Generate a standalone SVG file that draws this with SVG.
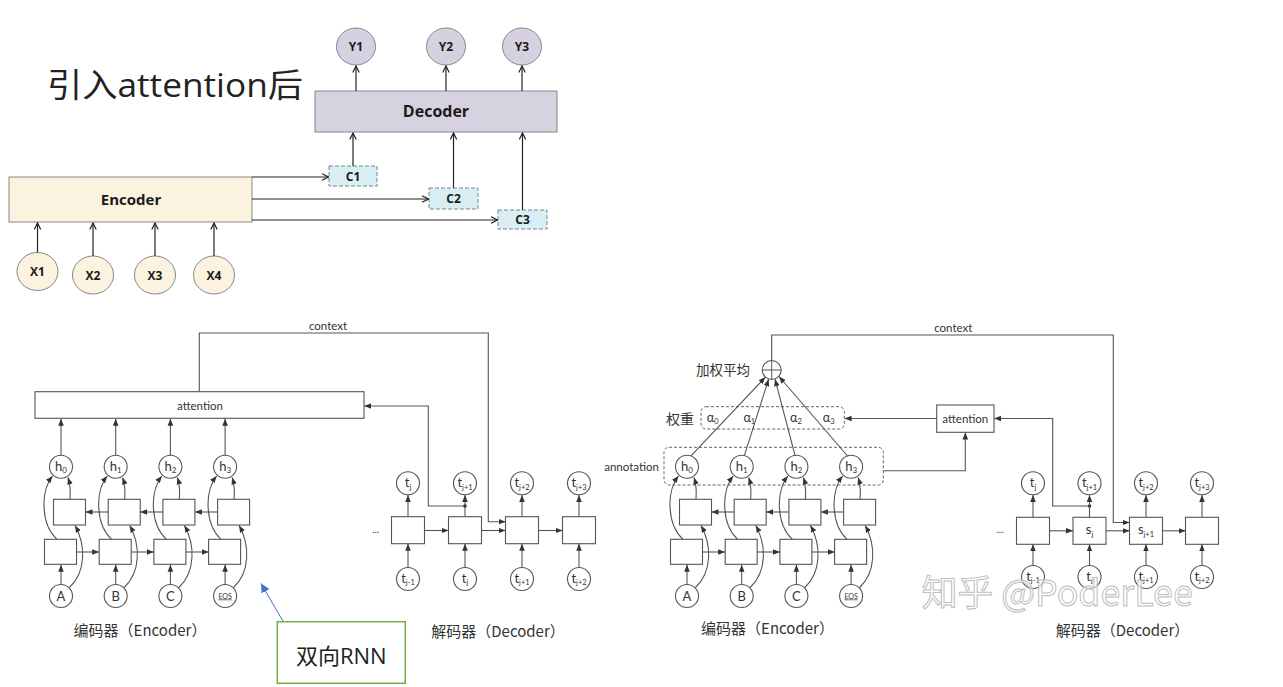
<svg xmlns="http://www.w3.org/2000/svg" width="1283" height="687" viewBox="0 0 1283 687">
<defs>
<style>
.t{font-family:"Open Sans","Noto Sans CJK SC",sans-serif;fill:#222;}
.tb{font-family:"Open Sans","Noto Sans CJK SC",sans-serif;font-weight:700;fill:#1a1a1a;text-anchor:middle;}
.ln{fill:none;stroke:#222;stroke-width:1.2;}
.l2{fill:none;stroke:#555;stroke-width:1.1;}
.nc{fill:#fff;stroke:#555;stroke-width:1.1;}
.nb{fill:#fff;stroke:#555;stroke-width:1.1;}
.lb{font-family:Lato,"Open Sans",sans-serif;fill:#333;text-anchor:middle;}
.le{font-family:Lato,"Open Sans",sans-serif;fill:#333;text-anchor:end;}
.cj{font-family:"Noto Sans CJK SC",sans-serif;fill:#333;}
.cm{font-family:"Noto Sans CJK SC",sans-serif;fill:#333;text-anchor:middle;}
.dash{fill:none;stroke:#666;stroke-width:1;stroke-dasharray:3 2;}
.yc{fill:#d6d1e0;stroke:#888;stroke-width:1;}
.xc{fill:#fcf2e0;stroke:#888;stroke-width:1;}
.cb{fill:#d8eef3;stroke:#6f8a90;stroke-width:1;stroke-dasharray:4 2;}
</style>
<marker id="oa" viewBox="0 0 10 10" refX="9" refY="5" markerWidth="8" markerHeight="8" markerUnits="userSpaceOnUse" orient="auto"><path d="M1,1 L9,5 L1,9" fill="none" stroke="#222" stroke-width="1.5"/></marker>
<marker id="fa" viewBox="0 0 10 10" refX="10" refY="5" markerWidth="7" markerHeight="7" markerUnits="userSpaceOnUse" orient="auto"><path d="M0,1 L10,5 L0,9 z" fill="#333"/></marker>
<marker id="ba" viewBox="0 0 10 10" refX="10" refY="5" markerWidth="9" markerHeight="9" markerUnits="userSpaceOnUse" orient="auto"><path d="M0,0 L10,5 L0,10 z" fill="#4472c4"/></marker>
</defs>
<rect width="1283" height="687" fill="#fff"/>

<!-- ===== TOP DIAGRAM ===== -->
<g id="title"><text class="t" x="47" y="97" font-size="33" textLength="256" lengthAdjust="spacingAndGlyphs">引入attention后</text></g>

<g id="top-nodes">
<g id="Y1"><ellipse class="yc" cx="356" cy="46.5" rx="19.5" ry="18.5"/><text class="tb" x="356" y="51" font-size="12">Y1</text></g>
<g id="Y2"><ellipse class="yc" cx="446" cy="46.5" rx="19.5" ry="18.5"/><text class="tb" x="446" y="51" font-size="12">Y2</text></g>
<g id="Y3"><ellipse class="yc" cx="522" cy="46.5" rx="19.5" ry="18.5"/><text class="tb" x="522" y="51" font-size="12">Y3</text></g>
<g id="Decoder"><rect x="315" y="91" width="242" height="41" fill="#d6d2e0" stroke="#888" stroke-width="1"/><text class="tb" x="436" y="116.5" font-size="16">Decoder</text></g>
<g id="C1"><rect class="cb" x="329" y="166" width="48" height="20"/><text class="tb" x="353" y="180.5" font-size="12">C1</text></g>
<g id="C2"><rect class="cb" x="429" y="188" width="49" height="21"/><text class="tb" x="453.5" y="203" font-size="12">C2</text></g>
<g id="C3"><rect class="cb" x="498" y="210" width="49" height="19"/><text class="tb" x="522.5" y="224" font-size="12">C3</text></g>
<g id="Encoder"><rect x="9" y="177" width="243" height="45" fill="#fcf2e0" stroke="#888" stroke-width="1"/><text class="tb" x="131" y="204.5" font-size="15">Encoder</text></g>
<g id="X1"><ellipse class="xc" cx="37.5" cy="271.5" rx="20.5" ry="19"/><text class="tb" x="37.5" y="276" font-size="12">X1</text></g>
<g id="X2"><ellipse class="xc" cx="93" cy="275" rx="20.5" ry="19"/><text class="tb" x="93" y="279.5" font-size="12">X2</text></g>
<g id="X3"><ellipse class="xc" cx="155" cy="275" rx="20.5" ry="19"/><text class="tb" x="155" y="279.5" font-size="12">X3</text></g>
<g id="X4"><ellipse class="xc" cx="214" cy="275" rx="20.5" ry="19"/><text class="tb" x="214" y="279.5" font-size="12">X4</text></g>
</g>

<g id="top-connectors" class="ln">
<path d="M356,91 V66" marker-end="url(#oa)"/>
<path d="M446,91 V66" marker-end="url(#oa)"/>
<path d="M522,91 V66" marker-end="url(#oa)"/>
<path d="M353,166 V133" marker-end="url(#oa)"/>
<path d="M453.5,188 V133" marker-end="url(#oa)"/>
<path d="M522.5,210 V133" marker-end="url(#oa)"/>
<path d="M252,177 H328.5" marker-end="url(#oa)"/>
<path d="M252,199 H428.5" marker-end="url(#oa)"/>
<path d="M252,220 H497.5" marker-end="url(#oa)"/>
<path d="M37.5,252.5 V223" marker-end="url(#oa)"/>
<path d="M93,256 V223" marker-end="url(#oa)"/>
<path d="M155,256 V223" marker-end="url(#oa)"/>
<path d="M214,256 V223" marker-end="url(#oa)"/>
</g>

<!-- ===== BOTTOM LEFT ===== -->
<g id="L-nodes">
<g id="L-attention"><rect class="nb" x="35" y="391.7" width="329" height="26.6"/><text class="lb" x="200" y="410" font-size="11.5">attention</text></g>
<g id="L-context-label"><text class="lb" x="328" y="330" font-size="11.5">context</text></g>
<g id="L-h0" transform="translate(61,0)"><circle class="nc" cx="0" cy="466.7" r="11.5"/><text class="lb" x="0" y="470.5" font-size="13">h<tspan font-size="8" dy="2.5">0</tspan></text></g>
<g id="L-h1" transform="translate(115.7,0)"><circle class="nc" cx="0" cy="466.7" r="11.5"/><text class="lb" x="0" y="470.5" font-size="13">h<tspan font-size="8" dy="2.5">1</tspan></text></g>
<g id="L-h2" transform="translate(170.4,0)"><circle class="nc" cx="0" cy="466.7" r="11.5"/><text class="lb" x="0" y="470.5" font-size="13">h<tspan font-size="8" dy="2.5">2</tspan></text></g>
<g id="L-h3" transform="translate(225.1,0)"><circle class="nc" cx="0" cy="466.7" r="11.5"/><text class="lb" x="0" y="470.5" font-size="13">h<tspan font-size="8" dy="2.5">3</tspan></text></g>
<g id="L-bw0" transform="translate(61,0)"><rect class="nb" x="-7.5" y="499.3" width="32" height="25.7"/></g>
<g id="L-bw1" transform="translate(115.7,0)"><rect class="nb" x="-7.5" y="499.3" width="32" height="25.7"/></g>
<g id="L-bw2" transform="translate(170.4,0)"><rect class="nb" x="-7.5" y="499.3" width="32" height="25.7"/></g>
<g id="L-bw3" transform="translate(225.1,0)"><rect class="nb" x="-7.5" y="499.3" width="32" height="25.7"/></g>
<g id="L-fw0" transform="translate(61,0)"><rect class="nb" x="-16.5" y="539.3" width="32" height="25"/></g>
<g id="L-fw1" transform="translate(115.7,0)"><rect class="nb" x="-16.5" y="539.3" width="32" height="25"/></g>
<g id="L-fw2" transform="translate(170.4,0)"><rect class="nb" x="-16.5" y="539.3" width="32" height="25"/></g>
<g id="L-fw3" transform="translate(225.1,0)"><rect class="nb" x="-16.5" y="539.3" width="32" height="25"/></g>
<g id="L-inA" transform="translate(61,0)"><circle class="nc" cx="0" cy="596" r="11.5"/><text class="lb" x="0" y="600.5" font-size="13">A</text></g>
<g id="L-inB" transform="translate(115.7,0)"><circle class="nc" cx="0" cy="596" r="11.5"/><text class="lb" x="0" y="600.5" font-size="13">B</text></g>
<g id="L-inC" transform="translate(170.4,0)"><circle class="nc" cx="0" cy="596" r="11.5"/><text class="lb" x="0" y="600.5" font-size="13">C</text></g>
<g id="L-inEOS" transform="translate(225.1,0)"><circle class="nc" cx="0" cy="596" r="11.5"/><text class="lb" x="0" y="598.5" font-size="7" text-decoration="underline">EOS</text></g>
<g id="L-enc-label"><text class="cm" x="140" y="635.5" font-size="15">编码器（Encoder）</text></g>

<g id="L-d0"><rect class="nb" x="391.5" y="516.7" width="33" height="27"/></g>
<g id="L-d1"><rect class="nb" x="448.5" y="516.7" width="33" height="27"/></g>
<g id="L-d2"><rect class="nb" x="505.5" y="516.7" width="33" height="27"/></g>
<g id="L-d3"><rect class="nb" x="562.5" y="516.7" width="33" height="27"/></g>
<g id="L-o0"><circle class="nc" cx="408" cy="483.3" r="11.5"/><text class="lb" x="408" y="487" font-size="13">t<tspan font-size="7.5" dy="2.5">j</tspan></text></g>
<g id="L-o1"><circle class="nc" cx="465" cy="483.3" r="11.5"/><text class="lb" x="465" y="487" font-size="13">t<tspan font-size="7.5" dy="2.5">j+1</tspan></text></g>
<g id="L-o2"><circle class="nc" cx="522" cy="483.3" r="11.5"/><text class="lb" x="522" y="487" font-size="13">t<tspan font-size="7.5" dy="2.5">j+2</tspan></text></g>
<g id="L-o3"><circle class="nc" cx="579" cy="483.3" r="11.5"/><text class="lb" x="579" y="487" font-size="13">t<tspan font-size="7.5" dy="2.5">j+3</tspan></text></g>
<g id="L-i0"><circle class="nc" cx="408" cy="579" r="11.5"/><text class="lb" x="408" y="582.5" font-size="13">t<tspan font-size="7.5" dy="2.5">j-1</tspan></text></g>
<g id="L-i1"><circle class="nc" cx="465" cy="579" r="11.5"/><text class="lb" x="465" y="582.5" font-size="13">t<tspan font-size="7.5" dy="2.5">j</tspan></text></g>
<g id="L-i2"><circle class="nc" cx="522" cy="579" r="11.5"/><text class="lb" x="522" y="582.5" font-size="13">t<tspan font-size="7.5" dy="2.5">j+1</tspan></text></g>
<g id="L-i3"><circle class="nc" cx="579" cy="579" r="11.5"/><text class="lb" x="579" y="582.5" font-size="13">t<tspan font-size="7.5" dy="2.5">j+2</tspan></text></g>
<g id="L-dots"><text class="lb" x="375.7" y="533" font-size="10">...</text></g>
<g id="L-dec-label"><text class="cm" x="498" y="637" font-size="15">解码器（Decoder）</text></g>
</g>

<g id="L-connectors" class="l2">
<g transform="translate(61,0)"><path d="M0,455 V418.8" marker-end="url(#fa)"/><path d="M-4,539.3 C-20,525 -21,492 -8.5,476" marker-end="url(#fa)"/><path d="M9,499.3 Q10,487 7,477.5" marker-end="url(#fa)"/><path d="M8.5,587.5 C25,572 25,545 14,525.5" marker-end="url(#fa)"/><path d="M0,584.5 V564.8" marker-end="url(#fa)"/></g>
<g transform="translate(115.7,0)"><path d="M0,455 V418.8" marker-end="url(#fa)"/><path d="M-4,539.3 C-20,525 -21,492 -8.5,476" marker-end="url(#fa)"/><path d="M9,499.3 Q10,487 7,477.5" marker-end="url(#fa)"/><path d="M8.5,587.5 C25,572 25,545 14,525.5" marker-end="url(#fa)"/><path d="M0,584.5 V564.8" marker-end="url(#fa)"/></g>
<g transform="translate(170.4,0)"><path d="M0,455 V418.8" marker-end="url(#fa)"/><path d="M-4,539.3 C-20,525 -21,492 -8.5,476" marker-end="url(#fa)"/><path d="M9,499.3 Q10,487 7,477.5" marker-end="url(#fa)"/><path d="M8.5,587.5 C25,572 25,545 14,525.5" marker-end="url(#fa)"/><path d="M0,584.5 V564.8" marker-end="url(#fa)"/></g>
<g transform="translate(225.1,0)"><path d="M0,455 V418.8" marker-end="url(#fa)"/><path d="M-4,539.3 C-20,525 -21,492 -8.5,476" marker-end="url(#fa)"/><path d="M9,499.3 Q10,487 7,477.5" marker-end="url(#fa)"/><path d="M8.5,587.5 C25,572 25,545 14,525.5" marker-end="url(#fa)"/><path d="M0,584.5 V564.8" marker-end="url(#fa)"/></g>
<path d="M108.2,512 H85.5" marker-end="url(#fa)"/>
<path d="M162.9,512 H140.2" marker-end="url(#fa)"/>
<path d="M217.6,512 H194.9" marker-end="url(#fa)"/>
<path d="M76.5,552 H99.2" marker-end="url(#fa)"/>
<path d="M131.2,552 H153.9" marker-end="url(#fa)"/>
<path d="M185.9,552 H208.6" marker-end="url(#fa)"/>
<path d="M408,516.7 V495" marker-end="url(#fa)"/>
<path d="M465,516.7 V495" marker-end="url(#fa)"/>
<path d="M522,516.7 V495" marker-end="url(#fa)"/>
<path d="M579,516.7 V495" marker-end="url(#fa)"/>
<path d="M408,567.5 V543.7" marker-end="url(#fa)"/>
<path d="M465,567.5 V543.7" marker-end="url(#fa)"/>
<path d="M522,567.5 V543.7" marker-end="url(#fa)"/>
<path d="M579,567.5 V543.7" marker-end="url(#fa)"/>
<path d="M424.5,530.5 H448.5" marker-end="url(#fa)"/>
<path d="M481.5,530.5 H505.5" marker-end="url(#fa)"/>
<path d="M538.5,530.5 H562.5" marker-end="url(#fa)"/>
<path d="M199.3,391.7 V333 H488.3 V521.7 H505.5" marker-end="url(#fa)"/>
<path d="M465,506 H428.3 V406 H364.3" marker-end="url(#fa)"/>
<circle cx="465" cy="506" r="1.8" fill="#333" stroke="none"/>
</g>

<!-- ===== BOTTOM RIGHT ===== -->
<g id="R-nodes">
<g id="R-sum"><circle class="nc" cx="771.7" cy="370" r="9.5"/><path d="M762.2,370 H781.2 M771.7,360.5 V379.5" stroke="#555" stroke-width="1"/></g>
<g id="R-sum-label"><text class="cj" x="696" y="374.5" font-size="13.5">加权平均</text></g>
<g id="R-context-label"><text class="lb" x="953.3" y="332" font-size="11.5">context</text></g>
<g id="R-weights"><rect class="dash" x="701" y="406.7" width="143.3" height="22.3" rx="5"/>
<text class="lb" x="712.7" y="421.5" font-size="12.5">α<tspan font-size="7.5" dy="2.5">0</tspan></text>
<text class="lb" x="749.3" y="421.5" font-size="12.5">α<tspan font-size="7.5" dy="2.5">1</tspan></text>
<text class="lb" x="796" y="421.5" font-size="12.5">α<tspan font-size="7.5" dy="2.5">2</tspan></text>
<text class="lb" x="828.7" y="421.5" font-size="12.5">α<tspan font-size="7.5" dy="2.5">3</tspan></text></g>
<g id="R-weights-label"><text class="cj" x="666" y="423.5" font-size="14">权重</text></g>
<g id="R-annotation"><rect class="dash" x="664" y="447.3" width="219.3" height="37.7" rx="5"/></g>
<g id="R-annotation-label"><text class="le" x="659" y="471" font-size="11.5">annotation</text></g>
<g id="R-attention"><rect class="nb" x="936.7" y="405" width="57.3" height="27.3"/><text class="lb" x="965.3" y="422.5" font-size="11.5">attention</text></g>
<g id="R-h0" transform="translate(687,0)"><circle class="nc" cx="0" cy="466.7" r="11.5"/><text class="lb" x="0" y="470.5" font-size="13">h<tspan font-size="8" dy="2.5">0</tspan></text></g>
<g id="R-h1" transform="translate(741.7,0)"><circle class="nc" cx="0" cy="466.7" r="11.5"/><text class="lb" x="0" y="470.5" font-size="13">h<tspan font-size="8" dy="2.5">1</tspan></text></g>
<g id="R-h2" transform="translate(796.4,0)"><circle class="nc" cx="0" cy="466.7" r="11.5"/><text class="lb" x="0" y="470.5" font-size="13">h<tspan font-size="8" dy="2.5">2</tspan></text></g>
<g id="R-h3" transform="translate(851.1,0)"><circle class="nc" cx="0" cy="466.7" r="11.5"/><text class="lb" x="0" y="470.5" font-size="13">h<tspan font-size="8" dy="2.5">3</tspan></text></g>
<g id="R-bw0" transform="translate(687,0)"><rect class="nb" x="-7.5" y="499.3" width="32" height="25.7"/></g>
<g id="R-bw1" transform="translate(741.7,0)"><rect class="nb" x="-7.5" y="499.3" width="32" height="25.7"/></g>
<g id="R-bw2" transform="translate(796.4,0)"><rect class="nb" x="-7.5" y="499.3" width="32" height="25.7"/></g>
<g id="R-bw3" transform="translate(851.1,0)"><rect class="nb" x="-7.5" y="499.3" width="32" height="25.7"/></g>
<g id="R-fw0" transform="translate(687,0)"><rect class="nb" x="-16.5" y="539.3" width="32" height="25"/></g>
<g id="R-fw1" transform="translate(741.7,0)"><rect class="nb" x="-16.5" y="539.3" width="32" height="25"/></g>
<g id="R-fw2" transform="translate(796.4,0)"><rect class="nb" x="-16.5" y="539.3" width="32" height="25"/></g>
<g id="R-fw3" transform="translate(851.1,0)"><rect class="nb" x="-16.5" y="539.3" width="32" height="25"/></g>
<g id="R-inA" transform="translate(687,0)"><circle class="nc" cx="0" cy="596" r="11.5"/><text class="lb" x="0" y="600.5" font-size="13">A</text></g>
<g id="R-inB" transform="translate(741.7,0)"><circle class="nc" cx="0" cy="596" r="11.5"/><text class="lb" x="0" y="600.5" font-size="13">B</text></g>
<g id="R-inC" transform="translate(796.4,0)"><circle class="nc" cx="0" cy="596" r="11.5"/><text class="lb" x="0" y="600.5" font-size="13">C</text></g>
<g id="R-inEOS" transform="translate(851.1,0)"><circle class="nc" cx="0" cy="596" r="11.5"/><text class="lb" x="0" y="598.5" font-size="7" text-decoration="underline">EOS</text></g>
<g id="R-enc-label"><text class="cm" x="767.5" y="633.5" font-size="15">编码器（Encoder）</text></g>

<g id="R-d0"><rect class="nb" x="1016.5" y="517.3" width="33" height="27"/></g>
<g id="R-d1"><rect class="nb" x="1073" y="517.3" width="33" height="27"/><text class="lb" x="1089.5" y="534" font-size="13">s<tspan font-size="7.5" dy="2.5">j</tspan></text></g>
<g id="R-d2"><rect class="nb" x="1129.5" y="517.3" width="33" height="27"/><text class="lb" x="1146" y="534" font-size="13">s<tspan font-size="7.5" dy="2.5">j+1</tspan></text></g>
<g id="R-d3"><rect class="nb" x="1185.5" y="517.3" width="33" height="27"/></g>
<g id="R-o0"><circle class="nc" cx="1033" cy="483.3" r="11.5"/><text class="lb" x="1033" y="487" font-size="13">t<tspan font-size="7.5" dy="2.5">j</tspan></text></g>
<g id="R-o1"><circle class="nc" cx="1089.5" cy="483.3" r="11.5"/><text class="lb" x="1089.5" y="487" font-size="13">t<tspan font-size="7.5" dy="2.5">j+1</tspan></text></g>
<g id="R-o2"><circle class="nc" cx="1146" cy="483.3" r="11.5"/><text class="lb" x="1146" y="487" font-size="13">t<tspan font-size="7.5" dy="2.5">j+2</tspan></text></g>
<g id="R-o3"><circle class="nc" cx="1202" cy="483.3" r="11.5"/><text class="lb" x="1202" y="487" font-size="13">t<tspan font-size="7.5" dy="2.5">j+3</tspan></text></g>
<g id="R-i0"><circle class="nc" cx="1033" cy="577" r="11.5"/><text class="lb" x="1033" y="580.5" font-size="13">t<tspan font-size="7.5" dy="2.5">j-1</tspan></text></g>
<g id="R-i1"><circle class="nc" cx="1089.5" cy="577" r="11.5"/><text class="lb" x="1089.5" y="580.5" font-size="13">t<tspan font-size="7.5" dy="2.5">j</tspan></text></g>
<g id="R-i2"><circle class="nc" cx="1146" cy="577" r="11.5"/><text class="lb" x="1146" y="580.5" font-size="13">t<tspan font-size="7.5" dy="2.5">j+1</tspan></text></g>
<g id="R-i3"><circle class="nc" cx="1202" cy="577" r="11.5"/><text class="lb" x="1202" y="580.5" font-size="13">t<tspan font-size="7.5" dy="2.5">j+2</tspan></text></g>
<g id="R-dots"><text class="lb" x="1000" y="533" font-size="10">...</text></g>
<g id="R-dec-label"><text class="cm" x="1122.5" y="635.5" font-size="15">解码器（Decoder）</text></g>
</g>

<g id="R-connectors" class="l2">
<g transform="translate(687,0)"><path d="M-4,539.3 C-20,525 -21,492 -8.5,476" marker-end="url(#fa)"/><path d="M9,499.3 Q10,487 7,477.5" marker-end="url(#fa)"/><path d="M8.5,587.5 C25,572 25,545 14,525.5" marker-end="url(#fa)"/><path d="M0,584.5 V564.8" marker-end="url(#fa)"/></g>
<g transform="translate(741.7,0)"><path d="M-4,539.3 C-20,525 -21,492 -8.5,476" marker-end="url(#fa)"/><path d="M9,499.3 Q10,487 7,477.5" marker-end="url(#fa)"/><path d="M8.5,587.5 C25,572 25,545 14,525.5" marker-end="url(#fa)"/><path d="M0,584.5 V564.8" marker-end="url(#fa)"/></g>
<g transform="translate(796.4,0)"><path d="M-4,539.3 C-20,525 -21,492 -8.5,476" marker-end="url(#fa)"/><path d="M9,499.3 Q10,487 7,477.5" marker-end="url(#fa)"/><path d="M8.5,587.5 C25,572 25,545 14,525.5" marker-end="url(#fa)"/><path d="M0,584.5 V564.8" marker-end="url(#fa)"/></g>
<g transform="translate(851.1,0)"><path d="M-4,539.3 C-20,525 -21,492 -8.5,476" marker-end="url(#fa)"/><path d="M9,499.3 Q10,487 7,477.5" marker-end="url(#fa)"/><path d="M8.5,587.5 C25,572 25,545 14,525.5" marker-end="url(#fa)"/><path d="M0,584.5 V564.8" marker-end="url(#fa)"/></g>
<path d="M734.2,512 H711.5" marker-end="url(#fa)"/>
<path d="M788.9,512 H766.2" marker-end="url(#fa)"/>
<path d="M843.6,512 H820.9" marker-end="url(#fa)"/>
<path d="M702.5,552 H725.2" marker-end="url(#fa)"/>
<path d="M757.2,552 H779.9" marker-end="url(#fa)"/>
<path d="M811.9,552 H834.6" marker-end="url(#fa)"/>
<path d="M691,455.9 L765.3,377.2" marker-end="url(#fa)"/>
<path d="M744.5,455.2 L768.6,379.2" marker-end="url(#fa)"/>
<path d="M795,455.3 L775,379.2" marker-end="url(#fa)"/>
<path d="M848,456.5 L779,376.5" marker-end="url(#fa)"/>
<path d="M883.3,470.7 H965.3 V432.6" marker-end="url(#fa)"/>
<path d="M936.7,418.5 H844.6" marker-end="url(#fa)"/>
<path d="M771.7,360.5 V335 H1113.3 V522.5 H1129.5" marker-end="url(#fa)"/>
<path d="M1089.5,506 H1052.7 V418.5 H994.3" marker-end="url(#fa)"/>
<circle cx="1089.5" cy="506" r="1.8" fill="#333" stroke="none"/>
<path d="M1033,517.3 V495" marker-end="url(#fa)"/>
<path d="M1089.5,517.3 V495" marker-end="url(#fa)"/>
<path d="M1146,517.3 V495" marker-end="url(#fa)"/>
<path d="M1202,517.3 V495" marker-end="url(#fa)"/>
<path d="M1033,565.5 V544.3" marker-end="url(#fa)"/>
<path d="M1089.5,565.5 V544.3" marker-end="url(#fa)"/>
<path d="M1146,565.5 V544.3" marker-end="url(#fa)"/>
<path d="M1202,565.5 V544.3" marker-end="url(#fa)"/>
<path d="M1049.5,530.8 H1073" marker-end="url(#fa)"/>
<path d="M1106,530.8 H1129.5" marker-end="url(#fa)"/>
<path d="M1162.5,530.8 H1185.5" marker-end="url(#fa)"/>
</g>

<g id="callout-connector"><path d="M283.3,621.7 L261,583.5" fill="none" stroke="#4472c4" stroke-width="1" marker-end="url(#ba)"/></g>
<g id="callout"><rect x="277.3" y="621.7" width="128" height="61.6" fill="#fff" stroke="#70ad47" stroke-width="1.5"/><text class="t" x="341.3" y="664" font-size="22" text-anchor="middle" fill="#111">双向RNN</text></g>

<g id="watermark"><text x="921.7" y="606" font-family="'Noto Sans CJK SC','Open Sans',sans-serif" font-size="36" fill="#fff" fill-opacity="0.55" stroke="#bdbdbd" stroke-width="1" textLength="271" lengthAdjust="spacingAndGlyphs">知乎 @PoderLee</text></g>
</svg>
